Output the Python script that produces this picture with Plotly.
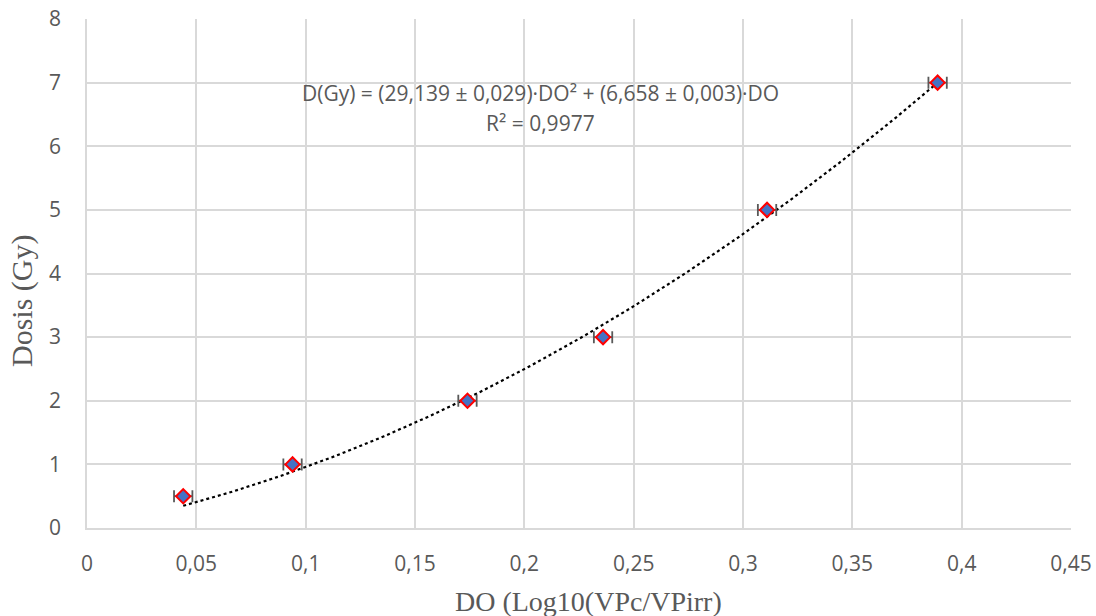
import numpy as np
import plotly.graph_objects as go

do_vals = [0.044, 0.094, 0.174, 0.236, 0.311, 0.389]
dose_vals = [0.5, 1, 2, 3, 5, 7]
do_err = [0.0042, 0.0042, 0.0042, 0.0042, 0.0042, 0.0042]
fit_coef = [29.139, 6.658]  # a*DO^2 + b*DO, from the chart's equation
x_ticks = [0, 0.05, 0.1, 0.15, 0.2, 0.25, 0.3, 0.35, 0.4, 0.45]
x_tick_text = ["0", "0,05", "0,1", "0,15", "0,2", "0,25", "0,3", "0,35", "0,4", "0,45"]
y_ticks = [0, 1, 2, 3, 4, 5, 6, 7, 8]

xf = np.linspace(min(do_vals), max(do_vals), 200)
yf = fit_coef[0] * xf**2 + fit_coef[1] * xf

fig = go.Figure()
fig.add_trace(go.Scatter(x=xf, y=yf, mode="lines",
                         line=dict(color="black", width=2.2, dash="dot"),
                         hoverinfo="skip", showlegend=False))
fig.add_trace(go.Scatter(x=do_vals, y=dose_vals, mode="markers",
                         marker=dict(symbol="diamond", size=11, color="#4472C4",
                                     line=dict(color="#FF0000", width=2)),
                         error_x=dict(type="data", array=do_err, color="#595959",
                                      thickness=1.8, width=6),
                         showlegend=False))

fig.add_annotation(x=0.2072, y=6.83, xref="x", yref="y",
                   text="D(Gy) = (29,139 ± 0,029)·DO² + (6,658 ± 0,003)·DO",
                   showarrow=False, font=dict(family="Open Sans", size=21, color="#595959"))
fig.add_annotation(x=0.2072, y=6.36, xref="x", yref="y",
                   text="R² = 0,9977",
                   showarrow=False, font=dict(family="Open Sans", size=21, color="#595959"))

# axis titles (placed as in the reference)
fig.add_annotation(x=(588 - 87) / 984, y=(528 - 601) / 509, xref="paper", yref="paper",
                   text="DO (Log10(VPc/VPirr)", showarrow=False,
                   xanchor="center", yanchor="middle",
                   font=dict(family="Liberation Serif", size=28, color="#595959"))
fig.add_annotation(x=(22 - 87) / 984, y=(528 - 301) / 509, xref="paper", yref="paper",
                   text="Dosis (Gy)", showarrow=False, textangle=-90,
                   xanchor="center", yanchor="middle",
                   font=dict(family="Liberation Serif", size=30, color="#595959"))

fig.update_layout(
    width=1096, height=616,
    margin=dict(l=87, r=25, t=19, b=88),
    paper_bgcolor="white", plot_bgcolor="white",
    font=dict(family="Open Sans", size=21, color="#595959"),
    xaxis=dict(range=[0, 0.45], tickvals=x_ticks, ticktext=x_tick_text,
               showgrid=True, gridcolor="#D9D9D9", gridwidth=1.5,
               zeroline=False, showline=True, linecolor="#D9D9D9", linewidth=1.5,
               ticks="outside", ticklen=16, tickcolor="rgba(0,0,0,0)",
               automargin=False),
    yaxis=dict(range=[0, 8], tickvals=y_ticks,
               showgrid=True, gridcolor="#D9D9D9", gridwidth=1.5,
               zeroline=False, showline=True, linecolor="#D9D9D9", linewidth=1.5,
               ticks="outside", ticklen=20, tickcolor="rgba(0,0,0,0)",
               automargin=False),
)

fig.write_html("out.html")
